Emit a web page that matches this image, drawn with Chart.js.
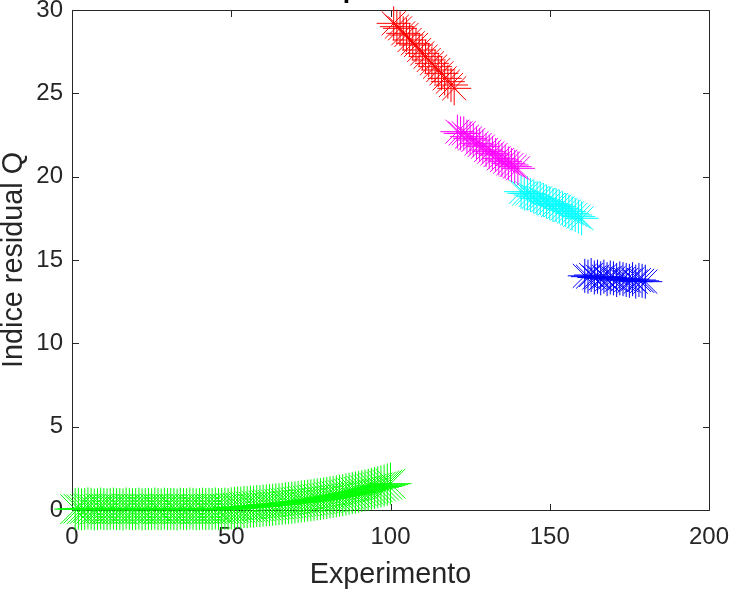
<!DOCTYPE html>
<html>
<head>
<meta charset="utf-8">
<script src="https://cdn.jsdelivr.net/npm/chart.js@4"></script>
<style>
  html, body { margin: 0; padding: 0; background: #ffffff; }
  #wrap { width: 731px; height: 592px; position: relative; }
</style>
</head>
<body>
<div id="wrap"><canvas id="c" width="731" height="592"></canvas></div>
<script>
// Residual index Q per experiment, one array per group of experiments
const qNormal = [
  0.05, 0.08, 0.04, 0.06, 0.10, 0.07, 0.03, 0.05, 0.09, 0.06,
  0.04, 0.07, 0.08, 0.05, 0.06, 0.03, 0.09, 0.07, 0.05, 0.06,
  0.08, 0.04, 0.06, 0.07, 0.05, 0.09, 0.06, 0.04, 0.08, 0.05,
  0.07, 0.06, 0.03, 0.08, 0.06, 0.05, 0.09, 0.07, 0.04, 0.06,
  0.08, 0.05, 0.07, 0.06, 0.09, 0.05, 0.07, 0.08, 0.06, 0.10,
  0.12, 0.15, 0.14, 0.18, 0.17, 0.21, 0.20, 0.24, 0.23, 0.27,
  0.28, 0.30, 0.31, 0.34, 0.35, 0.37, 0.40, 0.41, 0.44, 0.46,
  0.48, 0.51, 0.53, 0.56, 0.58, 0.61, 0.64, 0.66, 0.70, 0.72,
  0.76, 0.79, 0.82, 0.86, 0.89, 0.93, 0.97, 1.01, 1.05, 1.09,
  1.13, 1.18, 1.22, 1.27, 1.32, 1.36, 1.41, 1.46, 1.52, 1.58
];
const qFallo1 = [
  29.2, 29.0, 28.9, 28.6, 28.5, 28.2, 28.0, 27.9, 27.6, 27.4,
  27.2, 27.0, 26.8, 26.6, 26.4, 26.2, 25.9, 25.7, 25.5, 25.3
];
const qFallo2 = [
  22.7, 22.6, 22.6, 22.4, 22.3, 22.2, 22.0, 21.9, 21.8, 21.6,
  21.5, 21.4, 21.3, 21.1, 21.0, 20.9, 20.8, 20.7, 20.6, 20.5
];
const qFallo3 = [
  19.1, 19.0, 19.0, 18.9, 18.8, 18.7, 18.7, 18.6, 18.5, 18.4,
  18.3, 18.3, 18.2, 18.1, 18.0, 17.9, 17.8, 17.7, 17.6, 17.5
];
const qFallo4 = [
  14.05, 14.0, 14.1, 13.95, 14.0, 13.9, 14.0, 13.85, 13.95, 13.9,
  13.8, 13.9, 13.85, 13.8, 13.75, 13.85, 13.7, 13.8, 13.75, 13.7
];
// first experiment number of each group
const inicioGrupo = [1, 101, 121, 141, 161];
const coloresGrupo = ['#00ff00', '#ff0000', '#ff00ff', '#00ffff', '#0000ff'];
const radioGrupo = [21, 17, 17, 17, 17];
const ticksX = [0, 50, 100, 150, 200];
const ticksY = [0, 5, 10, 15, 20, 25, 30];

const grupos = [qNormal, qFallo1, qFallo2, qFallo3, qFallo4];

const axisColor = '#262626';
const fontFamily = '"Liberation Sans", Arial, Helvetica, sans-serif';

const datasets = grupos.map((serie, g) => ({
  data: serie.map((q, i) => ({ x: inicioGrupo[g] + i, y: q })),
  showLine: false,
  pointStyle: 'star',
  pointRadius: radioGrupo[g],
  pointHoverRadius: radioGrupo[g],
  pointBorderWidth: 1,
  borderColor: coloresGrupo[g],
  backgroundColor: coloresGrupo[g],
  clip: false
}));

// axes box with inward tick marks on all four sides, plus the title
const marco = {
  id: 'marco',
  beforeDatasetsDraw(chart) {
    const { ctx, chartArea: a, scales: { x, y } } = chart;
    const L = Math.round(a.left) + 0.5, R = Math.round(a.right) + 0.5;
    const T = Math.round(a.top) + 0.5, B = Math.round(a.bottom) + 0.5;
    const len = 6.5;
    ctx.save();
    ctx.strokeStyle = axisColor;
    ctx.lineWidth = 1;
    ctx.beginPath();
    ctx.rect(L, T, R - L, B - T);
    ticksX.forEach(v => {
      const px = Math.round(x.getPixelForValue(v)) + 0.5;
      ctx.moveTo(px, B); ctx.lineTo(px, B - len);
      ctx.moveTo(px, T); ctx.lineTo(px, T + len);
    });
    ticksY.forEach(v => {
      const py = Math.round(y.getPixelForValue(v)) + 0.5;
      ctx.moveTo(L, py); ctx.lineTo(L + len, py);
      ctx.moveTo(R, py); ctx.lineTo(R - len, py);
    });
    ctx.stroke();
    ctx.restore();
  },
  afterDraw(chart) {
    const { ctx, chartArea: a } = chart;
    ctx.save();
    ctx.fillStyle = '#000000';
    ctx.font = 'bold 26.4px ' + fontFamily;
    ctx.textAlign = 'center';
    ctx.textBaseline = 'alphabetic';
    ctx.fillText('Experimento', (a.left + a.right) / 2, -2.5);
    ctx.restore();
  }
};

new Chart(document.getElementById('c'), {
  type: 'scatter',
  data: { datasets },
  options: {
    responsive: false,
    animation: false,
    devicePixelRatio: 1,
    layout: { autoPadding: false, padding: { top: 10, right: 22, left: 0, bottom: 0 } },
    plugins: { legend: { display: false }, tooltip: { enabled: false } },
    scales: {
      x: {
        type: 'linear',
        min: 0, max: 200,
        afterBuildTicks(s) { s.ticks = ticksX.map(v => ({ value: v })); },
        afterFit(s) { s.height = 82; s.paddingLeft = 0; s.paddingRight = 0; },
        grid: { display: false, drawTicks: false },
        border: { display: false },
        ticks: { color: axisColor, padding: 13, font: { family: fontFamily, size: 24 } },
        title: {
          display: true, text: 'Experimento', color: axisColor,
          font: { family: fontFamily, size: 28.8, lineHeight: 1 },
          padding: { top: 0, bottom: 3 }
        }
      },
      y: {
        type: 'linear',
        min: 0, max: 30,
        afterBuildTicks(s) { s.ticks = ticksY.map(v => ({ value: v })); },
        afterFit(s) { s.width = 72; s.paddingTop = 0; s.paddingBottom = 0; },
        grid: { display: false, drawTicks: false },
        border: { display: false },
        ticks: { color: axisColor, padding: 9, font: { family: fontFamily, size: 24 } },
        title: {
          display: true, text: 'Índice residual Q', color: axisColor,
          font: { family: fontFamily, size: 28.8, lineHeight: 1 },
          padding: { top: 0, bottom: 0 }
        }
      }
    }
  },
  plugins: [marco]
});
</script>
</body>
</html>
